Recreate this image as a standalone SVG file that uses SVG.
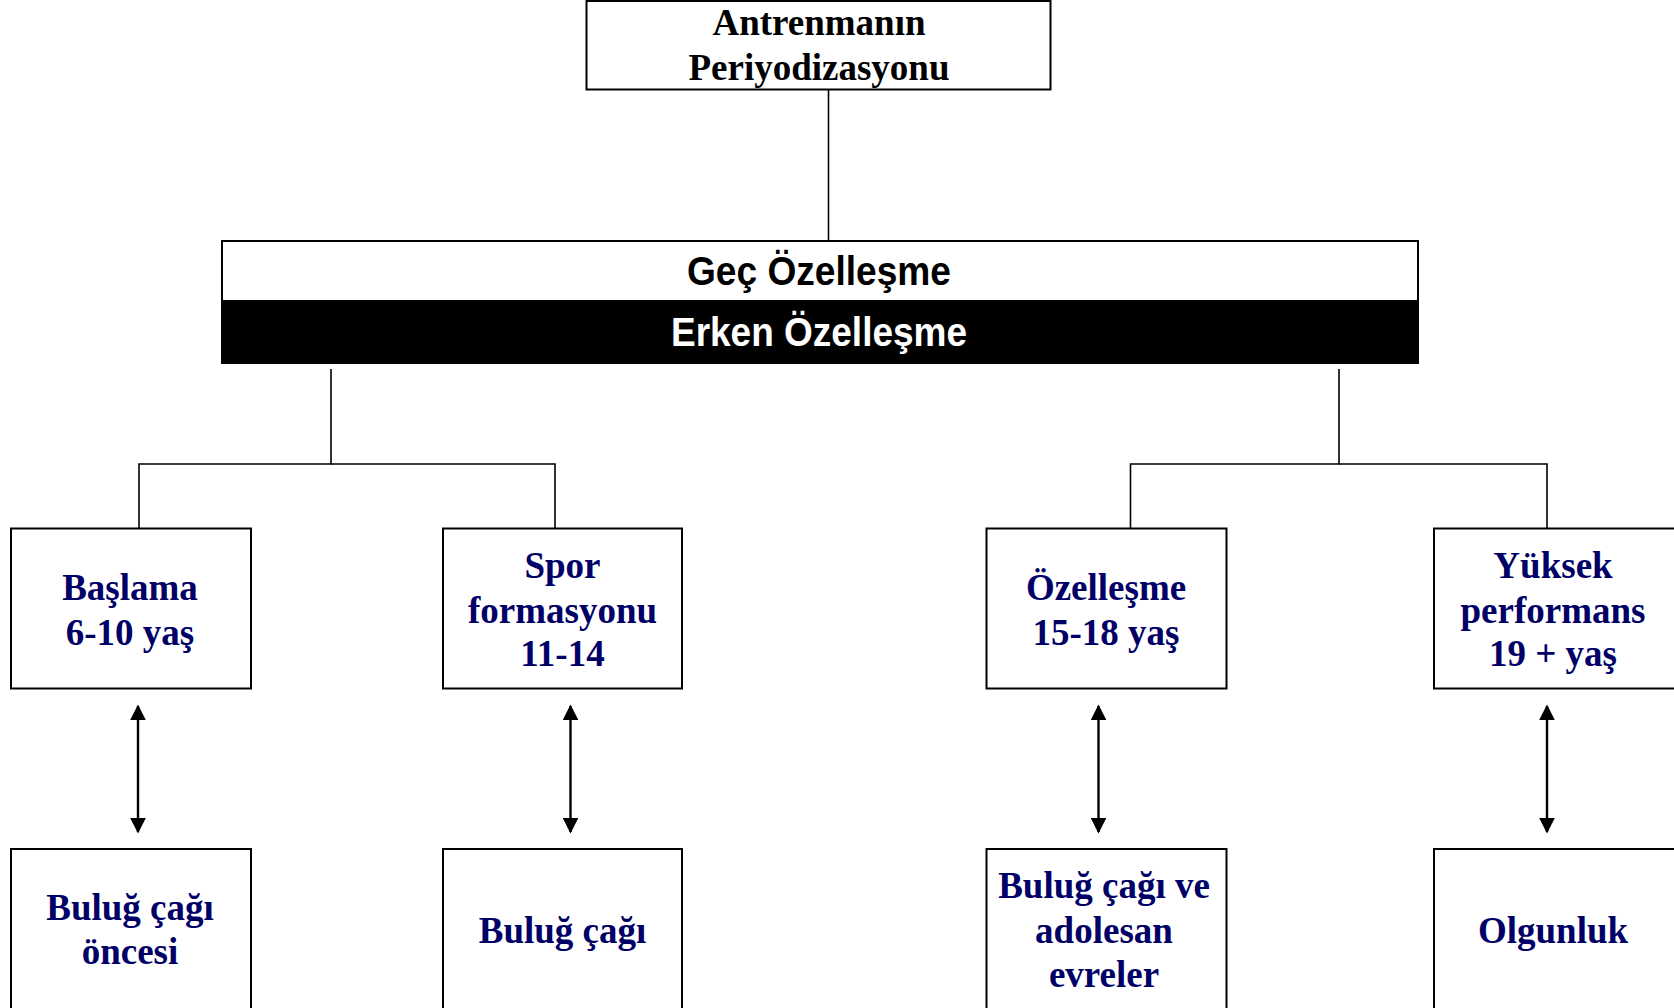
<svg xmlns="http://www.w3.org/2000/svg" width="1674" height="1008" viewBox="0 0 1674 1008">
<style>
.box{fill:#fff;stroke:#000;stroke-width:2}
.ln{fill:none;stroke:#000;stroke-width:1.6}
.arr{fill:none;stroke:#000;stroke-width:2.4;marker-start:url(#ah);marker-end:url(#ah)}
.t{font-family:"Liberation Serif","Times New Roman",serif;font-weight:bold;font-size:37px;text-anchor:middle;fill:#000066}
.tt{font-family:"Liberation Serif","Times New Roman",serif;font-weight:bold;font-size:37px;text-anchor:middle;fill:#000}
.s{font-family:"Liberation Sans",Arial,sans-serif;font-weight:bold;font-size:40px;text-anchor:middle}
</style>
<defs>
<marker id="ah" viewBox="0 0 10 10" refX="9" refY="5" markerWidth="16" markerHeight="16" markerUnits="userSpaceOnUse" orient="auto-start-reverse">
<path d="M0,0 L10,5 L0,10 Z" fill="#000"/>
</marker>
</defs>
<g id="connectors">
<line class="ln" x1="828.5" y1="89" x2="828.5" y2="241"/>
<polyline class="ln" points="331,369 331,464 139,464 139,528"/>
<polyline class="ln" points="331,464 555,464 555,528"/>
<polyline class="ln" points="1339,369 1339,464 1130.5,464 1130.5,528"/>
<polyline class="ln" points="1339,464 1547,464 1547,528"/>
<line class="arr" x1="138" y1="706" x2="138" y2="832"/>
<line class="arr" x1="570.5" y1="706" x2="570.5" y2="832"/>
<line class="arr" x1="1098.5" y1="706" x2="1098.5" y2="832"/>
<line class="arr" x1="1547" y1="706" x2="1547" y2="832"/>
</g>
<g id="top">
<rect class="box" x="586.5" y="1" width="464" height="88.5"/>
<text class="tt" x="819" y="35">Antrenmanın</text>
<text class="tt" x="819" y="80">Periyodizasyonu</text>
</g>
<g id="band">
<rect x="222" y="241" width="1196" height="60" fill="#fff" stroke="#000" stroke-width="2"/>
<rect x="222" y="301" width="1196" height="62" fill="#000" stroke="#000" stroke-width="2"/>
<text class="s" x="819" y="285" fill="#000" textLength="264" lengthAdjust="spacingAndGlyphs">Geç Özelleşme</text>
<text class="s" x="819" y="346" fill="#fff" textLength="296" lengthAdjust="spacingAndGlyphs">Erken Özelleşme</text>
</g>
<g id="baslama">
<rect class="box" x="11" y="528.5" width="240" height="160"/>
<text class="t" x="130" y="600">Başlama</text>
<text class="t" x="130" y="645">6-10 yaş</text>
</g>
<g id="spor">
<rect class="box" x="443" y="528.5" width="239" height="160"/>
<text class="t" x="562.5" y="577.5">Spor</text>
<text class="t" x="562.5" y="622.5">formasyonu</text>
<text class="t" x="562.5" y="666">11-14</text>
</g>
<g id="ozellesme">
<rect class="box" x="986.5" y="528.5" width="240" height="160"/>
<text class="t" x="1106" y="600">Özelleşme</text>
<text class="t" x="1106" y="645">15-18 yaş</text>
</g>
<g id="yuksek">
<rect class="box" x="1434" y="528.5" width="245" height="160"/>
<text class="t" x="1553" y="577.5">Yüksek</text>
<text class="t" x="1553" y="622.5">performans</text>
<text class="t" x="1553" y="666">19 + yaş</text>
</g>
<g id="bulug-oncesi">
<rect class="box" x="11" y="849" width="240" height="170"/>
<text class="t" x="130" y="920">Buluğ çağı</text>
<text class="t" x="130" y="964">öncesi</text>
</g>
<g id="bulug">
<rect class="box" x="443" y="849" width="239" height="170"/>
<text class="t" x="562.5" y="942.5">Buluğ çağı</text>
</g>
<g id="adolesan">
<rect class="box" x="986.5" y="849" width="240" height="170"/>
<text class="t" x="1104" y="898">Buluğ çağı ve</text>
<text class="t" x="1104" y="942.5">adolesan</text>
<text class="t" x="1104" y="986.5">evreler</text>
</g>
<g id="olgunluk">
<rect class="box" x="1434" y="849" width="245" height="170"/>
<text class="t" x="1553" y="942.5">Olgunluk</text>
</g>
</svg>
